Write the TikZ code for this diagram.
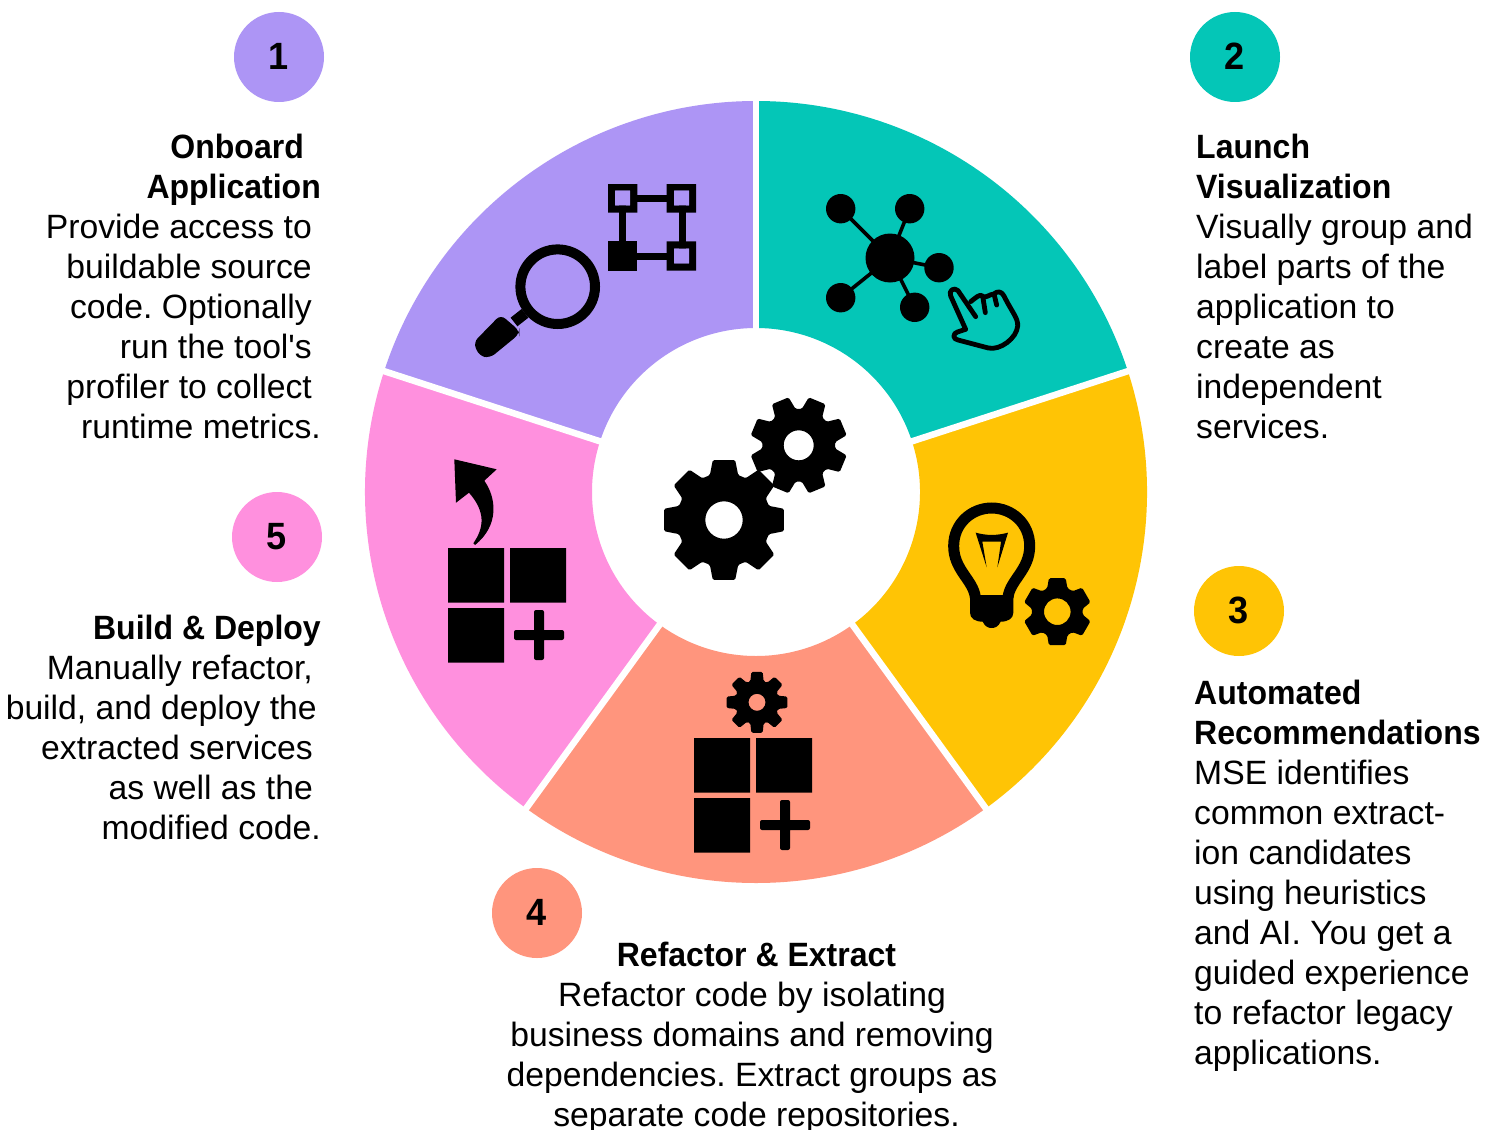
\documentclass[tikz,border=0pt]{standalone}
\usepackage{fontspec}
\setmainfont[BoldFeatures={FakeStretch=0.95}]{Liberation Sans}
\newfontfamily\plainfont{Liberation Sans}
\definecolor{cpurple}{HTML}{AD95F5}
\definecolor{cteal}{HTML}{04C6B7}
\definecolor{cgold}{HTML}{FFC405}
\definecolor{csalmon}{HTML}{FF957D}
\definecolor{cpink}{HTML}{FF90DE}
\newcommand\padR[1]{\mbox{\kern#1pt}}
\newcommand\mygear[7]{%
  \pgfmathsetmacro\gp{360/#5}\pgfmathsetmacro\gn{int(#5-1)}%
  \fill[even odd rule,rounded corners=1.5pt]
    ({#1+#4*cos(#7-.5*\gp)},{#2-#4*sin(#7-.5*\gp)})
    \foreach \i in {0,...,\gn}{
      -- ({#1+#4*cos(#7+\i*\gp-.39*\gp)},{#2-#4*sin(#7+\i*\gp-.39*\gp)})
      -- ({#1+#3*cos(#7+\i*\gp-.235*\gp)},{#2-#3*sin(#7+\i*\gp-.235*\gp)})
      -- ({#1+#3*cos(#7+\i*\gp+.235*\gp)},{#2-#3*sin(#7+\i*\gp+.235*\gp)})
      -- ({#1+#4*cos(#7+\i*\gp+.39*\gp)},{#2-#4*sin(#7+\i*\gp+.39*\gp)})
    } -- cycle (#1,#2) circle[radius=#6];}
\newcommand\mywedge[3]{%
  \fill[#1] (#2:391pt) arc[start angle=#2,end angle=#3,radius=391pt]
    -- (#3:164pt) arc[start angle=#3,end angle=#2,radius=164pt] -- cycle;}
\tikzset{
  badge/.style={circle,minimum size=90pt,inner sep=0pt,font=\fontsize{38}{38}\selectfont\bfseries},
  blurb/.style={inner sep=0pt,font=\fontsize{33.7}{40}\selectfont\frenchspacing},
  blurbR/.style={blurb,align=right,anchor=north east},
  blurbL/.style={blurb,align=left,anchor=north west},
  blurbC/.style={blurb,align=center,anchor=north},
  zoomed/.style={shift={#1},x=0.33333pt,y=-0.33333pt},
}
\begin{document}
\begin{tikzpicture}[x=1pt,y=-1pt]
\useasboundingbox (0,0) rectangle (1495,1129);
\fill[white] (0,0) rectangle (1495,1129);
% ring
\begin{scope}[shift={(756,492)},x=1pt,y=1pt]
  \mywedge{cpurple}{90}{162}
  \mywedge{cteal}{18}{90}
  \mywedge{cgold}{-54}{18}
  \mywedge{csalmon}{-126}{-54}
  \mywedge{cpink}{162}{234}
  \foreach \a in {90,18,-54,-126,162}
    \draw[white,line width=6.5pt] (\a:150pt) -- (\a:400pt);
\end{scope}
% badges
\node[badge,fill=cpurple] (b1) at (279,57) {\raisebox{1pt}{1}};
\node[badge,fill=cteal] (b2) at (1235,57) {\raisebox{1pt}{2}};
\node[badge,fill=cgold] (b3) at (1239,611) {\raisebox{1pt}{3}};
\node[badge,fill=csalmon] (b4) at (537,913) {\raisebox{1pt}{4}};
\node[badge,fill=cpink] (b5) at (277,537) {\raisebox{1pt}{5}};
% texts
\node[blurbR] (t1) at (321,134) {\textbf{Onboard}\padR{17}\\\textbf{Application}\\Provide access to\padR{9}\\buildable source\padR{9}\\code. Optionally\padR{9}\\run the tool{\plainfont'}s\padR{9}\\profiler to collect\padR{9}\\runtime metrics.};
\node[blurbL] (t2) at (1196,134) {\textbf{Launch}\\\textbf{Visualization}\\Visually group and\\label parts of the\\application to\\create as\\independent\\services.};
\node[blurbL] (t3) at (1194,680) {\textbf{Automated}\\\textbf{Recommendations}\\MSE identifies\\common extract-\\ion candidates\\using heuristics\\and AI. You get a\\guided experience\\to refactor legacy\\applications.};
\node[blurbC] (t4) at (756.5,942) {\textbf{Refactor \& Extract}\\Refactor code by isolating\padR{9}\\business domains and removing\padR{9}\\dependencies. Extract groups as\padR{9}\\separate code repositories.};
\node[blurbR] (t5) at (321,615) {\textbf{Build \& Deploy}\\Manually refactor,\padR{8}\\build, and deploy the\padR{4}\\extracted services\padR{8}\\as well as the\padR{8}\\modified code.};
% magnifier + selection
\draw[line width=10pt] (557.7,286.7) circle[radius=37.3];
\begin{scope}[zoomed={(440,160)}]
  \draw[line width=11pt] (222,486) -- (255,460);
  \fill[rounded corners=6pt] (182,464) -- (238,512) -- (238,522) -- (150,594) -- (118,588) -- (100,548) -- cycle;
\end{scope}
\begin{scope}[line width=7pt]
  \draw (622,198) -- (682,198) -- (682,256) -- (622,256) -- cycle;
\end{scope}
\fill[even odd rule] (608,184) rectangle (637.3,212.7) (615,190.7) rectangle (630,205.3);
\fill[even odd rule] (666.7,184) rectangle (696,212.7) (674,190.7) rectangle (689,205.3);
\fill (608,241.3) rectangle (637.3,270.7);
\fill[even odd rule] (666.7,241.3) rectangle (696,270.7) (674,248.7) rectangle (689,263.3);
\fill[cpurple] (615,190.7) rectangle (630,205.3) (674,190.7) rectangle (689,205.3) (674,248.7) rectangle (689,263.3);
% network
\foreach \p in {(840.7,208.7),(909.7,208.7),(939,267.7),(840.7,297.7),(914.7,307.3)}{
  \draw[line width=3.6pt] (890,258) -- \p;
  \fill \p circle[radius=14.7];
}
\fill (890,258) circle[radius=24.5];
% hand
\begin{scope}[zoomed={(800,170)},line width=4.8pt,line join=round,line cap=round]
  \draw (527,440) -- (474,362) .. controls (462,350) and (445,362) .. (452,378) -- (497,478)
     -- (472,486) .. controls (458,490) and (458,508) .. (474,510) -- (565,534)
     .. controls (600,542) and (650,505) .. (653,468) .. controls (655,445) and (635,425) .. (612,378)
     .. controls (605,364) and (592,362) .. (582,372) -- (590,405);
  \draw (512,395) .. controls (525,385) and (540,370) .. (548,378) -- (556,428);
  \draw (548,380) .. controls (558,385) and (570,372) .. (582,372);
\end{scope}
% bulb
\begin{scope}[zoomed={(930,490)}]
  \draw[line width=11pt] (136,322) .. controls (130,270) and (71,240) .. (71,168)
     .. controls (71,100) and (125,54) .. (185,54) .. controls (245,54) and (299,100) .. (299,168)
     .. controls (299,240) and (240,270) .. (234,322);
  \fill (120,315) -- (250,315) -- (250,368) .. controls (250,385) and (235,395) .. (212,395)
     .. controls (205,410) and (195,414) .. (185,414) .. controls (175,414) and (165,410) .. (158,395)
     .. controls (135,395) and (120,385) .. (120,368) -- cycle;
  \fill (137,128) .. controls (170,137) and (200,137) .. (234,128) -- (202,232) -- (213,155)
     -- (157,155) -- (170,232) -- cycle;
\end{scope}
\mygear{1057.3}{611.7}{34.5}{25.5}{6}{13.3}{90}
% centre gears
\mygear{724}{520}{61}{47}{8}{18.7}{90}
\mygear{798.7}{445.3}{49}{36.5}{8}{15}{22.5}
% refactor icon
\mygear{757}{702.3}{31}{22}{8}{8.5}{90}
\fill (694,738) rectangle (750,792.7) (756,738) rectangle (812,792.7) (694,798) rectangle (750,852.7);
\fill[rounded corners=2pt] (760,820) rectangle (810,830) (780,800) rectangle (790,850);
% build icon
\fill (448,548) rectangle (504,602.7) (510,548) rectangle (566,602.7) (448,608) rectangle (504,662.7);
\fill[rounded corners=2pt] (514,630) rectangle (564,640) (534,610) rectangle (544,660);
\fill (454.3,459.3) -- (496.7,469.3) -- (484.3,480.7) .. controls (496,497) and (500,525) .. (475,545)
  -- (473.3,543.3) .. controls (484,528) and (486,512) .. (469,492.7) -- (456,502.7) -- cycle;
\end{tikzpicture}
\end{document}
